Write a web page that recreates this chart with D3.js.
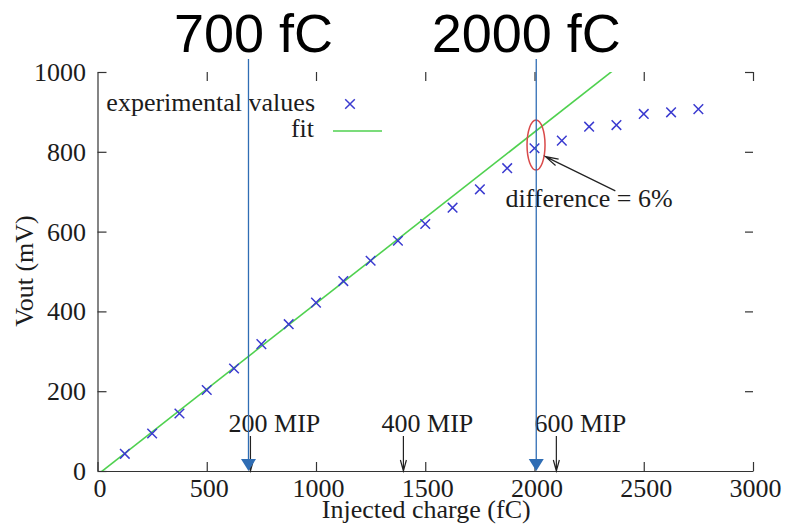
<!DOCTYPE html>
<html>
<head>
<meta charset="utf-8">
<script src="https://cdn.jsdelivr.net/npm/d3@7"></script>
<style>
  body { margin: 0; background: #fff; }
  svg { display: block; }
  .serif { font-family: "Liberation Serif", "Times New Roman", serif; fill: #1c1c1c; }
</style>
</head>
<body>
<div id="chart"></div>
<script>
// measured charge (fC) and output (mV)
var charge = [125, 250, 375, 500, 625, 750, 875, 1000, 1125, 1250, 1375,
              1500, 1625, 1750, 1875, 2000, 2125, 2250, 2375, 2500, 2625, 2750];
var vout = [43, 94, 144, 203, 257, 318, 368, 422, 476, 527, 577,
            619, 660, 706, 759, 809, 828, 863, 867, 895, 899, 907];

// linear fit  Vout = fitSlope * Q + fitOffset
var fitSlope = 0.4294;
var fitOffset = -9.4;

var xTicks = [0, 500, 1000, 1500, 2000, 2500, 3000];
var yTicks = [0, 200, 400, 600, 800, 1000];

// MIP markers (fC)
var mipCharge = [700, 1400, 2100];
var mipLabels = ["200 MIP", "400 MIP", "600 MIP"];

// blue overlay lines drawn on top of the plot
var overlayCharge = [691, 2008];
var overlayLabels = ["700 fC", "2000 fC"];

var width = 787, height = 525;
var svg = d3.select("#chart").append("svg")
    .attr("width", width)
    .attr("height", height);

var x = d3.scaleLinear().domain([0, 3000]).range([97.5, 753]);
var y = d3.scaleLinear().domain([0, 1000]).range([471, 72]);

var axisColor = "#333";
var fontSize = 26;

svg.append("clipPath").attr("id", "plotclip")
    .append("rect")
    .attr("x", x(0)).attr("y", y(1000))
    .attr("width", x(3000) - x(0)).attr("height", y(0) - y(1000));

// axes (only left and bottom have a border line, top and right get mirrored ticks)
var gx = svg.append("g")
    .attr("transform", "translate(0," + y(0) + ")")
    .call(d3.axisBottom(x).tickValues(xTicks).tickFormat(d3.format("d"))
        .tickSize(-9).tickSizeOuter(0).tickPadding(7.5));
var gy = svg.append("g")
    .attr("transform", "translate(" + x(0) + ",0)")
    .call(d3.axisLeft(y).tickValues(yTicks).tickFormat(d3.format("d"))
        .tickSize(-9).tickSizeOuter(0).tickPadding(11.5));
var gt = svg.append("g")
    .attr("transform", "translate(0," + y(1000) + ")")
    .call(d3.axisTop(x).tickValues(xTicks.slice(1)).tickSize(-9).tickFormat(""));
var gr = svg.append("g")
    .attr("transform", "translate(" + x(3000) + ",0)")
    .call(d3.axisRight(y).tickValues(yTicks.slice(1)).tickSize(-8).tickFormat(""));
gt.select(".domain").remove();
gr.select(".domain").remove();

[gx, gy, gt, gr].forEach(function(g){
    g.selectAll("path, line").attr("stroke", axisColor).attr("stroke-width", 1.2);
    g.selectAll("text")
        .attr("class", "serif")
        .style("font-size", fontSize + "px")
        .attr("fill", "#1c1c1c");
});
gx.selectAll("text").attr("dx", 2);
gy.selectAll("text").attr("dy", "0.33em");

// axis titles
svg.append("text").attr("class", "serif")
    .attr("x", x(1500) + 1).attr("y", 518)
    .attr("text-anchor", "middle")
    .style("font-size", fontSize + "px")
    .text("Injected charge (fC)");
svg.append("text").attr("class", "serif")
    .attr("transform", "translate(33,271) rotate(-90)")
    .attr("text-anchor", "middle")
    .style("font-size", fontSize + "px")
    .text("Vout (mV)");

// fit line
var plot = svg.append("g").attr("clip-path", "url(#plotclip)");
var fitLine = d3.line()
    .x(function(d){ return x(d); })
    .y(function(d){ return y(fitSlope * d + fitOffset); });
plot.append("path")
    .datum([0, 3000])
    .attr("d", fitLine)
    .attr("fill", "none")
    .attr("stroke", "#4fd14f")
    .attr("stroke-width", 1.6);

// crosses
var cross = function(cx, cy, s){
    return "M" + (cx - s) + "," + (cy - s) + "L" + (cx + s) + "," + (cy + s) +
           "M" + (cx - s) + "," + (cy + s) + "L" + (cx + s) + "," + (cy - s);
};
var points = charge.map(function(q, i){ return {q: q, v: vout[i]}; });
plot.selectAll(".pt").data(points).enter().append("path")
    .attr("class", "pt")
    .attr("d", function(d){ return cross(x(d.q), y(d.v), 4.8); })
    .attr("stroke", "#3b3bd0")
    .attr("stroke-width", 1.5)
    .attr("fill", "none");

// legend
svg.append("text").attr("class", "serif")
    .attr("x", 315).attr("y", 111)
    .attr("text-anchor", "end")
    .style("font-size", fontSize + "px")
    .text("experimental values");
svg.append("path")
    .attr("d", cross(350, 104, 4.8))
    .attr("stroke", "#3b3bd0").attr("stroke-width", 1.5).attr("fill", "none");
svg.append("text").attr("class", "serif")
    .attr("x", 314).attr("y", 137)
    .attr("text-anchor", "end")
    .style("font-size", fontSize + "px")
    .text("fit");
svg.append("line")
    .attr("x1", 333).attr("x2", 382).attr("y1", 131).attr("y2", 131)
    .attr("stroke", "#4fd14f").attr("stroke-width", 1.6);

// open arrow heads
var arrow = function(x1, y1, x2, y2, len, half){
    var ang = Math.atan2(y2 - y1, x2 - x1);
    var bx = x2 - len * Math.cos(ang), by = y2 - len * Math.sin(ang);
    var px = -Math.sin(ang) * half, py = Math.cos(ang) * half;
    return "M" + x1 + "," + y1 + "L" + x2 + "," + y2 +
           "M" + (bx + px) + "," + (by + py) + "L" + x2 + "," + y2 + "L" + (bx - px) + "," + (by - py);
};

// MIP labels and arrows
mipCharge.forEach(function(q, i){
    svg.append("text").attr("class", "serif")
        .attr("x", x(q - 100)).attr("y", 432)
        .style("font-size", fontSize + "px")
        .text(mipLabels[i]);
    svg.append("path")
        .attr("d", arrow(x(q), y(88), x(q), y(0), 11, 3))
        .attr("stroke", "#222").attr("stroke-width", 1.2).attr("fill", "none");
});

// difference annotation
svg.append("ellipse")
    .attr("cx", x(2007)).attr("cy", y(817))
    .attr("rx", 9).attr("ry", 25)
    .attr("fill", "none").attr("stroke", "#d94a4a").attr("stroke-width", 1.5);
svg.append("path")
    .attr("d", arrow(x(2370), y(702), x(2050), y(788), 13, 3.5))
    .attr("stroke", "#222").attr("stroke-width", 1.2).attr("fill", "none");
svg.append("text").attr("class", "serif")
    .attr("x", 589).attr("y", 207)
    .attr("text-anchor", "middle")
    .style("font-size", fontSize + "px")
    .text("difference = 6%");

// blue overlay markers
var labelShift = [5, -10];
overlayCharge.forEach(function(q, i){
    var lx = x(q);
    svg.append("line")
        .attr("x1", lx).attr("x2", lx).attr("y1", 59).attr("y2", 460)
        .attr("stroke", "#2f6db4").attr("stroke-width", 1.3);
    svg.append("path")
        .attr("d", "M" + (lx - 7.5) + ",459L" + (lx + 7.5) + ",459L" + lx + ",471Z")
        .attr("fill", "#2f6db4");
    svg.append("text")
        .attr("x", lx + labelShift[i]).attr("y", 52)
        .attr("text-anchor", "middle")
        .style("font-family", "'Liberation Sans', Arial, sans-serif")
        .style("font-size", "54px")
        .attr("fill", "#000")
        .text(overlayLabels[i]);
});
</script>
</body>
</html>
